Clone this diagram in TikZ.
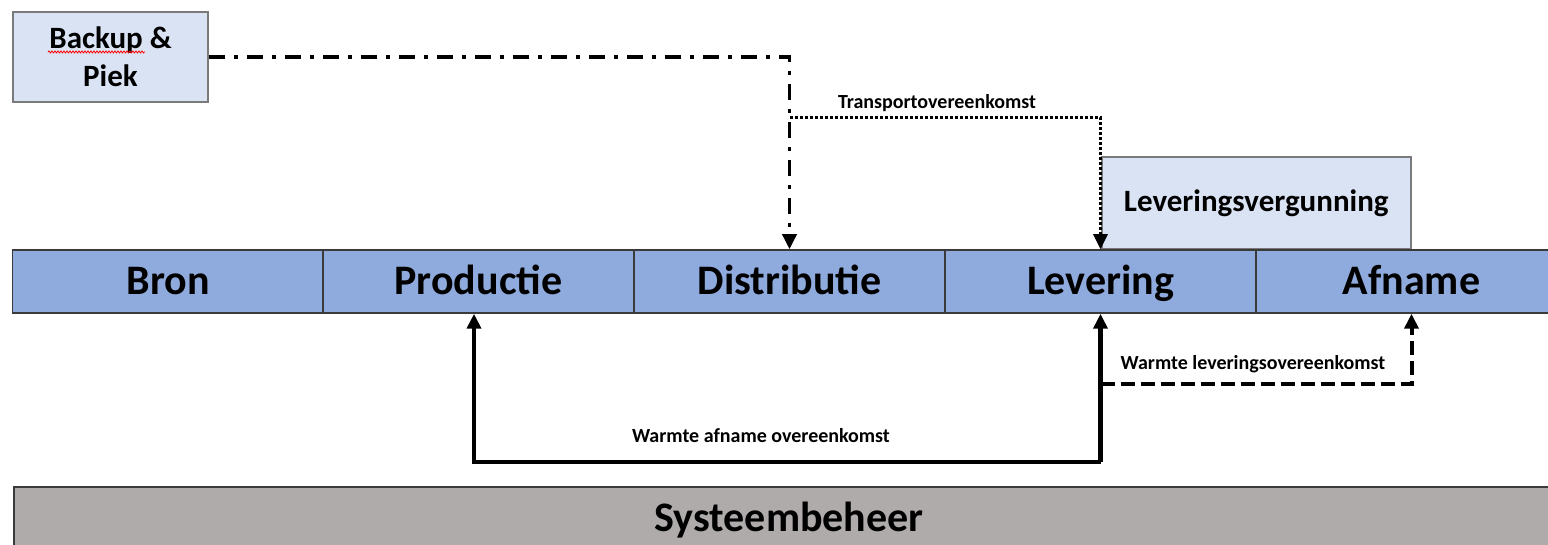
\documentclass[tikz,border=0pt]{standalone}
\usepackage{fontspec}
\setmainfont{Carlito}
\usetikzlibrary{arrows.meta,decorations.pathmorphing}
\definecolor{barblue}{HTML}{8FAADC}
\definecolor{lightblue}{HTML}{DAE3F3}
\definecolor{sysgray}{HTML}{AFABAB}
\definecolor{edgedark}{HTML}{3A3A3A}
\definecolor{edgegray}{HTML}{7A7A7A}
\tikzset{
  cell/.style={draw=edgedark, line width=1.5pt, fill=barblue, minimum width=311pt, minimum height=63pt, inner sep=0pt, text height=27pt, text depth=0pt, font=\bfseries\fontsize{42}{50}\selectfont},
  lightbox/.style={draw=edgegray, line width=1.5pt, fill=lightblue, inner sep=0pt, align=center},
  lbl/.style={font=\bfseries\fontsize{20}{24}\selectfont, inner sep=0pt},
  tip/.style={-{Triangle[width=14pt,length=15pt]}},
  dashdotline/.style={tip, line width=3.5pt, dash pattern=on 16pt off 9pt on 4pt off 9pt},
  dotline/.style={tip, line width=3pt, dash pattern=on 2.5pt off 2.5pt},
  solidline/.style={tip, line width=4.5pt},
  dashline/.style={tip, line width=4pt, dash pattern=on 14pt off 6pt},
}
\begin{document}
\begin{tikzpicture}[x=1pt,y=-1pt]
\useasboundingbox (0,0) rectangle (1548,545);
\clip (0,0) rectangle (1548,545);
% Systeembeheer bar
\node[draw=edgedark, line width=1.5pt, fill=sysgray, minimum width=1560pt, minimum height=70pt, inner sep=0pt, anchor=north west] (sys) at (13,486) {};
\node[font=\bfseries\fontsize{42}{50}\selectfont, inner sep=0pt, text height=27pt, text depth=0pt] (systxt) at (789,518) {Systeembeheer};
% Leveringsvergunning
\node[lightbox, minimum width=309pt, minimum height=92pt, anchor=south west, font=\bfseries\fontsize{31}{38}\selectfont] (verg) at (1101,250) {Leveringsvergunning};
% Main bar
\node[cell] (bron) at (168,281.5) {Bron};
\node[cell] (productie) at (478.5,281.5) {Productie};
\node[cell] (distributie) at (789.5,281.5) {Distributie};
\node[cell] (levering) at (1100.5,281.5) {Levering};
\node[cell] (afname) at (1411.5,281.5) {Afname};
% Backup box
\node[lightbox, minimum width=195pt, minimum height=90pt, font=\bfseries\fontsize{31}{38}\selectfont] (backup) at (110.5,57) {Backup \&\\Piek};
\draw[red, line width=0.8pt, decorate, decoration={snake, amplitude=1pt, segment length=3pt}] (48,52) -- (145,52);
% connectors
\draw[dashdotline] (backup.east) -| (distributie.north);
\coordinate (tj) at (790,118);
\draw[dotline] (tj) -| (levering.north);
\node[lbl] (transport) at (937,103) {Transportovereenkomst};
\coordinate (wj) at (1100.5,462);
\draw[solidline] (wj) -| ([xshift=-4.5pt]productie.south);
\draw[solidline] (wj) -- (levering.south);
\node[lbl] (afnlbl) at (761,436) {Warmte afname overeenkomst};
\coordinate (dj) at (1100.5,384);
\draw[dashline] (dj) -| (afname.south);
\node[lbl] (levlbl) at (1253,364) {Warmte leveringsovereenkomst};
\end{tikzpicture}
\end{document}
